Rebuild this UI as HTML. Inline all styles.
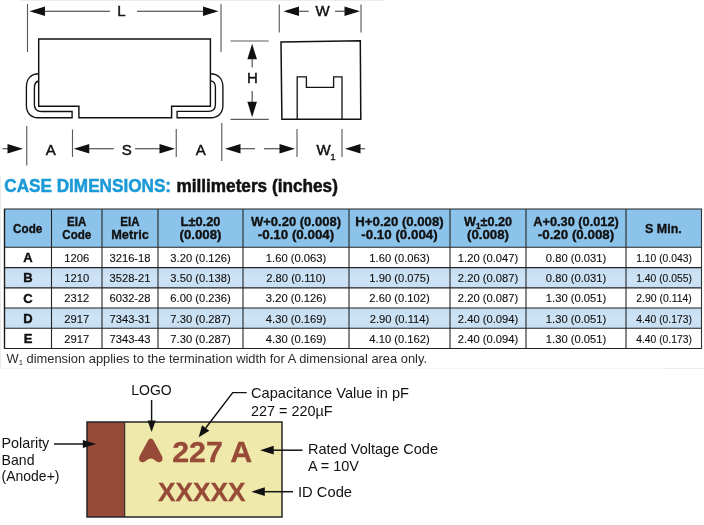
<!DOCTYPE html>
<html lang="en"><head><meta charset="utf-8"><title>Case Dimensions</title>
<style>html,body{margin:0;padding:0;background:#fff}body{width:704px;height:525px;overflow:hidden}svg{display:block}text{font-family:'Liberation Sans', sans-serif}</style>
</head><body>
<svg width="704" height="525" viewBox="0 0 704 525">
<rect x="0" y="0" width="704" height="525" fill="#ffffff"/>
<line x1="27.5" y1="4" x2="27.5" y2="52" stroke="#5c5c5c" stroke-width="1.15" />
<line x1="221" y1="4" x2="221" y2="52" stroke="#5c5c5c" stroke-width="1.15" />
<polygon points="29.5,11.25 45.0,6.45 45.0,16.05" fill="#111"/>
<polygon points="218.5,11.25 203.0,6.45 203.0,16.05" fill="#111"/>
<line x1="44" y1="11.25" x2="110" y2="11.25" stroke="#333" stroke-width="1" />
<line x1="137" y1="11.25" x2="204" y2="11.25" stroke="#333" stroke-width="1" />
<text x="121.5" y="16.3" font-size="15" font-weight="normal" fill="#111" text-anchor="middle"  stroke="#111" stroke-width="0.45">L</text>
<path d="M38.7 106.2 V39 H210.4 V106.2 H171.6 V117.8 H78.9 V106.2 Z" fill="none" stroke="#111" stroke-width="1.45" stroke-linejoin="miter"/>
<path d="M38.7 73.7 C30.8 73.7 26.4 79 26.4 87 V105.5 C26.4 113 31 117.7 38 117.7 H72.1 V111.5 H41.5 C37 111.5 34.4 109 34.4 104.5 V88 C34.4 84 36 81.5 38.7 81" fill="none" stroke="#111" stroke-width="1.35"/>
<path d="M210.4 73.7 C218.3 73.7 222.9 79 222.9 87 V105.5 C222.9 113 218 117.7 211 117.7 H177.1 V111.4 H208.5 C213 111.4 215.4 109 215.4 104.5 V87 C215.4 83.5 213.5 81 210.4 80.8" fill="none" stroke="#111" stroke-width="1.35"/>
<line x1="230.5" y1="41" x2="268.75" y2="41" stroke="#5c5c5c" stroke-width="1.15" />
<line x1="230.5" y1="119.3" x2="268.75" y2="119.3" stroke="#5c5c5c" stroke-width="1.15" />
<polygon points="252.15,43.7 247.35,59.2 256.95,59.2" fill="#111"/>
<polygon points="252.15,117.3 247.35,101.8 256.95,101.8" fill="#111"/>
<line x1="252.15" y1="58" x2="252.15" y2="67.5" stroke="#333" stroke-width="1" />
<line x1="252.15" y1="91" x2="252.15" y2="102" stroke="#333" stroke-width="1" />
<text x="252.45" y="82.8" font-size="15" font-weight="normal" fill="#111" text-anchor="middle"  stroke="#111" stroke-width="0.45">H</text>
<line x1="279.25" y1="4.5" x2="279.25" y2="32.5" stroke="#5c5c5c" stroke-width="1.15" />
<line x1="361" y1="4.5" x2="361" y2="32.5" stroke="#5c5c5c" stroke-width="1.15" />
<polygon points="283.5,11.25 299.0,6.45 299.0,16.05" fill="#111"/>
<polygon points="360,11.25 344.5,6.45 344.5,16.05" fill="#111"/>
<line x1="298" y1="11.25" x2="308.75" y2="11.25" stroke="#333" stroke-width="1" />
<line x1="335" y1="11.25" x2="346" y2="11.25" stroke="#333" stroke-width="1" />
<text x="322.7" y="16.3" font-size="15" font-weight="normal" fill="#111" text-anchor="middle"  stroke="#111" stroke-width="0.45">W</text>
<path d="M281 41.9 L360.3 40.8 L360.8 119.2 L281.9 119.2 Z" fill="none" stroke="#111" stroke-width="1.5"/>
<path d="M297.2 119.2 V76.9 H306.4 V87.3 H333.6 V76.9 H342 V119.2" fill="none" stroke="#111" stroke-width="1.3"/>
<line x1="26.75" y1="126" x2="26.75" y2="165.5" stroke="#5c5c5c" stroke-width="1.15" />
<line x1="72.5" y1="129.5" x2="72.5" y2="157" stroke="#5c5c5c" stroke-width="1.15" />
<line x1="176.25" y1="129" x2="176.25" y2="157" stroke="#5c5c5c" stroke-width="1.15" />
<line x1="221.75" y1="123" x2="221.75" y2="161" stroke="#5c5c5c" stroke-width="1.15" />
<line x1="297" y1="129" x2="297" y2="157" stroke="#5c5c5c" stroke-width="1.15" />
<line x1="342" y1="129" x2="342" y2="157" stroke="#5c5c5c" stroke-width="1.15" />
<line x1="2.5" y1="148.75" x2="8" y2="148.75" stroke="#333" stroke-width="1" />
<polygon points="23,148.75 7.5,143.95 7.5,153.55" fill="#111"/>
<text x="50.7" y="154.5" font-size="15" font-weight="normal" fill="#111" text-anchor="middle"  stroke="#111" stroke-width="0.45">A</text>
<polygon points="73.75,148.75 89.25,143.95 89.25,153.55" fill="#111"/>
<line x1="89" y1="148.75" x2="113.75" y2="148.75" stroke="#333" stroke-width="1" />
<text x="126.7" y="154.5" font-size="15" font-weight="normal" fill="#111" text-anchor="middle"  stroke="#111" stroke-width="0.45">S</text>
<line x1="135" y1="148.75" x2="160" y2="148.75" stroke="#333" stroke-width="1" />
<polygon points="175,148.75 159.5,143.95 159.5,153.55" fill="#111"/>
<text x="200.7" y="154.5" font-size="15" font-weight="normal" fill="#111" text-anchor="middle"  stroke="#111" stroke-width="0.45">A</text>
<polygon points="225,148.75 240.5,143.95 240.5,153.55" fill="#111"/>
<line x1="240" y1="148.75" x2="255" y2="148.75" stroke="#333" stroke-width="1" />
<line x1="264" y1="148.75" x2="280" y2="148.75" stroke="#333" stroke-width="1" />
<polygon points="295,148.75 279.5,143.95 279.5,153.55" fill="#111"/>
<text x="323.5" y="154.5" font-size="15" font-weight="normal" fill="#111" text-anchor="middle"  stroke="#111" stroke-width="0.45">W</text>
<text x="333" y="159.8" font-size="9.8" font-weight="normal" fill="#111" text-anchor="middle"  stroke="#111" stroke-width="0.3">1</text>
<polygon points="345,148.75 360.5,143.95 360.5,153.55" fill="#111"/>
<line x1="360" y1="148.75" x2="365" y2="148.75" stroke="#333" stroke-width="1" />
<line x1="0.5" y1="176" x2="0.5" y2="368" stroke="#ececec" stroke-width="1" />
<line x1="0" y1="368.5" x2="704" y2="368.5" stroke="#f6f6f6" stroke-width="1" />
<line x1="665" y1="368.5" x2="704" y2="368.5" stroke="#ececec" stroke-width="1" />
<line x1="21" y1="0.5" x2="385" y2="0.5" stroke="#ededed" stroke-width="1" />
<text x="4.3" y="192.4" font-size="18" font-weight="bold" fill="#1b9ad7" text-anchor="start" textLength="166.8" lengthAdjust="spacingAndGlyphs"  stroke="#1b9ad7" stroke-width="0.5">CASE DIMENSIONS:</text>
<text x="176.4" y="192.4" font-size="18" font-weight="bold" fill="#111" text-anchor="start" textLength="161.5" lengthAdjust="spacingAndGlyphs"  stroke="#111" stroke-width="0.5">millimeters (inches)</text>
<rect x="4.5" y="209" width="697.0" height="38.19999999999999" fill="#8cc3eb"/>
<defs><linearGradient id="rg" x1="0" y1="0" x2="0" y2="1"><stop offset="0" stop-color="#c4ddf3"/><stop offset="0.5" stop-color="#cee3f5"/><stop offset="1" stop-color="#c6def3"/></linearGradient></defs>
<rect x="4.5" y="267.6" width="697.0" height="20.19999999999999" fill="url(#rg)"/>
<rect x="4.5" y="308" width="697.0" height="20.19999999999999" fill="url(#rg)"/>
<line x1="3.9" y1="209" x2="702.0" y2="209" stroke="#222" stroke-width="1.15" />
<line x1="3.9" y1="247.2" x2="702.0" y2="247.2" stroke="#222" stroke-width="1.15" />
<line x1="3.9" y1="267.6" x2="702.0" y2="267.6" stroke="#222" stroke-width="1.15" />
<line x1="3.9" y1="287.8" x2="702.0" y2="287.8" stroke="#222" stroke-width="1.15" />
<line x1="3.9" y1="308" x2="702.0" y2="308" stroke="#222" stroke-width="1.15" />
<line x1="3.9" y1="328.2" x2="702.0" y2="328.2" stroke="#222" stroke-width="1.15" />
<line x1="3.9" y1="348.5" x2="702.0" y2="348.5" stroke="#222" stroke-width="1.15" />
<line x1="4.5" y1="209" x2="4.5" y2="348.5" stroke="#1a1a1a" stroke-width="1.4" />
<line x1="51.5" y1="209" x2="51.5" y2="348.5" stroke="#262626" stroke-width="1.1" />
<line x1="102" y1="209" x2="102" y2="348.5" stroke="#262626" stroke-width="1.1" />
<line x1="158" y1="209" x2="158" y2="348.5" stroke="#262626" stroke-width="1.1" />
<line x1="243" y1="209" x2="243" y2="348.5" stroke="#262626" stroke-width="1.1" />
<line x1="349" y1="209" x2="349" y2="348.5" stroke="#262626" stroke-width="1.1" />
<line x1="450" y1="209" x2="450" y2="348.5" stroke="#262626" stroke-width="1.1" />
<line x1="526" y1="209" x2="526" y2="348.5" stroke="#262626" stroke-width="1.1" />
<line x1="626" y1="209" x2="626" y2="348.5" stroke="#262626" stroke-width="1.1" />
<line x1="701.5" y1="209" x2="701.5" y2="348.5" stroke="#333" stroke-width="1.1" />
<text x="27.7" y="232.8" font-size="13.2" font-weight="bold" fill="#111" text-anchor="middle" textLength="29.2" lengthAdjust="spacingAndGlyphs"  stroke="#111" stroke-width="0.35">Code</text>
<text x="76.75" y="225.8" font-size="13.2" font-weight="bold" fill="#111" text-anchor="middle" textLength="19.3" lengthAdjust="spacingAndGlyphs"  stroke="#111" stroke-width="0.35">EIA</text>
<text x="76.75" y="238.9" font-size="13.2" font-weight="bold" fill="#111" text-anchor="middle" textLength="29" lengthAdjust="spacingAndGlyphs"  stroke="#111" stroke-width="0.35">Code</text>
<text x="130.0" y="225.8" font-size="13.2" font-weight="bold" fill="#111" text-anchor="middle" textLength="19.3" lengthAdjust="spacingAndGlyphs"  stroke="#111" stroke-width="0.35">EIA</text>
<text x="130.0" y="238.9" font-size="13.2" font-weight="bold" fill="#111" text-anchor="middle" textLength="37.5" lengthAdjust="spacingAndGlyphs"  stroke="#111" stroke-width="0.35">Metric</text>
<text x="200.5" y="225.8" font-size="13.2" font-weight="bold" fill="#111" text-anchor="middle" textLength="39.8" lengthAdjust="spacingAndGlyphs"  stroke="#111" stroke-width="0.35">L±0.20</text>
<text x="200.5" y="238.9" font-size="13.2" font-weight="bold" fill="#111" text-anchor="middle" textLength="42" lengthAdjust="spacingAndGlyphs"  stroke="#111" stroke-width="0.35">(0.008)</text>
<text x="296.0" y="225.8" font-size="13.2" font-weight="bold" fill="#111" text-anchor="middle" textLength="90" lengthAdjust="spacingAndGlyphs"  stroke="#111" stroke-width="0.35">W+0.20 (0.008)</text>
<text x="296.0" y="238.9" font-size="13.2" font-weight="bold" fill="#111" text-anchor="middle" textLength="76.5" lengthAdjust="spacingAndGlyphs"  stroke="#111" stroke-width="0.35">-0.10 (0.004)</text>
<text x="399.5" y="225.8" font-size="13.2" font-weight="bold" fill="#111" text-anchor="middle" textLength="88.3" lengthAdjust="spacingAndGlyphs"  stroke="#111" stroke-width="0.35">H+0.20 (0.008)</text>
<text x="399.5" y="238.9" font-size="13.2" font-weight="bold" fill="#111" text-anchor="middle" textLength="76.5" lengthAdjust="spacingAndGlyphs"  stroke="#111" stroke-width="0.35">-0.10 (0.004)</text>
<text x="488.0" y="225.8" font-size="13.2" font-weight="bold" fill="#111" text-anchor="middle" textLength="48" lengthAdjust="spacingAndGlyphs"  stroke="#111" stroke-width="0.35">W<tspan font-size="8.5" dy="3">1</tspan><tspan dy="-3">±0.20</tspan></text>
<text x="488.0" y="238.9" font-size="13.2" font-weight="bold" fill="#111" text-anchor="middle" textLength="42" lengthAdjust="spacingAndGlyphs"  stroke="#111" stroke-width="0.35">(0.008)</text>
<text x="576.0" y="225.8" font-size="13.2" font-weight="bold" fill="#111" text-anchor="middle" textLength="85.5" lengthAdjust="spacingAndGlyphs"  stroke="#111" stroke-width="0.35">A+0.30 (0.012)</text>
<text x="576.0" y="238.9" font-size="13.2" font-weight="bold" fill="#111" text-anchor="middle" textLength="76.5" lengthAdjust="spacingAndGlyphs"  stroke="#111" stroke-width="0.35">-0.20 (0.008)</text>
<text x="663.45" y="232.8" font-size="13.2" font-weight="bold" fill="#111" text-anchor="middle" textLength="36.8" lengthAdjust="spacingAndGlyphs"  stroke="#111" stroke-width="0.35">S Min.</text>
<text x="28.0" y="261.99999999999994" font-size="13" font-weight="bold" fill="#111" text-anchor="middle"  stroke="#111" stroke-width="0.4">A</text>
<text x="76.75" y="261.79999999999995" font-size="11.2" font-weight="normal" fill="#111" text-anchor="middle"  stroke="#111" stroke-width="0.12">1206</text>
<text x="130.0" y="261.79999999999995" font-size="11.2" font-weight="normal" fill="#111" text-anchor="middle"  stroke="#111" stroke-width="0.12">3216-18</text>
<text x="200.5" y="261.79999999999995" font-size="11.2" font-weight="normal" fill="#111" text-anchor="middle"  stroke="#111" stroke-width="0.12">3.20 (0.126)</text>
<text x="296.0" y="261.79999999999995" font-size="11.2" font-weight="normal" fill="#111" text-anchor="middle"  stroke="#111" stroke-width="0.12">1.60 (0.063)</text>
<text x="399.5" y="261.79999999999995" font-size="11.2" font-weight="normal" fill="#111" text-anchor="middle"  stroke="#111" stroke-width="0.12">1.60 (0.063)</text>
<text x="488.0" y="261.79999999999995" font-size="11.2" font-weight="normal" fill="#111" text-anchor="middle"  stroke="#111" stroke-width="0.12">1.20 (0.047)</text>
<text x="576.0" y="261.79999999999995" font-size="11.2" font-weight="normal" fill="#111" text-anchor="middle"  stroke="#111" stroke-width="0.12">0.80 (0.031)</text>
<text x="664.05" y="261.79999999999995" font-size="11.2" font-weight="normal" fill="#111" text-anchor="middle" textLength="55.6" lengthAdjust="spacingAndGlyphs"  stroke="#111" stroke-width="0.12">1.10 (0.043)</text>
<text x="28.0" y="282.3" font-size="13" font-weight="bold" fill="#111" text-anchor="middle"  stroke="#111" stroke-width="0.4">B</text>
<text x="76.75" y="282.1" font-size="11.2" font-weight="normal" fill="#111" text-anchor="middle"  stroke="#111" stroke-width="0.12">1210</text>
<text x="130.0" y="282.1" font-size="11.2" font-weight="normal" fill="#111" text-anchor="middle"  stroke="#111" stroke-width="0.12">3528-21</text>
<text x="200.5" y="282.1" font-size="11.2" font-weight="normal" fill="#111" text-anchor="middle"  stroke="#111" stroke-width="0.12">3.50 (0.138)</text>
<text x="296.0" y="282.1" font-size="11.2" font-weight="normal" fill="#111" text-anchor="middle"  stroke="#111" stroke-width="0.12">2.80 (0.110)</text>
<text x="399.5" y="282.1" font-size="11.2" font-weight="normal" fill="#111" text-anchor="middle"  stroke="#111" stroke-width="0.12">1.90 (0.075)</text>
<text x="488.0" y="282.1" font-size="11.2" font-weight="normal" fill="#111" text-anchor="middle"  stroke="#111" stroke-width="0.12">2.20 (0.087)</text>
<text x="576.0" y="282.1" font-size="11.2" font-weight="normal" fill="#111" text-anchor="middle"  stroke="#111" stroke-width="0.12">0.80 (0.031)</text>
<text x="664.05" y="282.1" font-size="11.2" font-weight="normal" fill="#111" text-anchor="middle" textLength="55.6" lengthAdjust="spacingAndGlyphs"  stroke="#111" stroke-width="0.12">1.40 (0.055)</text>
<text x="28.0" y="302.49999999999994" font-size="13" font-weight="bold" fill="#111" text-anchor="middle"  stroke="#111" stroke-width="0.4">C</text>
<text x="76.75" y="302.29999999999995" font-size="11.2" font-weight="normal" fill="#111" text-anchor="middle"  stroke="#111" stroke-width="0.12">2312</text>
<text x="130.0" y="302.29999999999995" font-size="11.2" font-weight="normal" fill="#111" text-anchor="middle"  stroke="#111" stroke-width="0.12">6032-28</text>
<text x="200.5" y="302.29999999999995" font-size="11.2" font-weight="normal" fill="#111" text-anchor="middle"  stroke="#111" stroke-width="0.12">6.00 (0.236)</text>
<text x="296.0" y="302.29999999999995" font-size="11.2" font-weight="normal" fill="#111" text-anchor="middle"  stroke="#111" stroke-width="0.12">3.20 (0.126)</text>
<text x="399.5" y="302.29999999999995" font-size="11.2" font-weight="normal" fill="#111" text-anchor="middle"  stroke="#111" stroke-width="0.12">2.60 (0.102)</text>
<text x="488.0" y="302.29999999999995" font-size="11.2" font-weight="normal" fill="#111" text-anchor="middle"  stroke="#111" stroke-width="0.12">2.20 (0.087)</text>
<text x="576.0" y="302.29999999999995" font-size="11.2" font-weight="normal" fill="#111" text-anchor="middle"  stroke="#111" stroke-width="0.12">1.30 (0.051)</text>
<text x="664.05" y="302.29999999999995" font-size="11.2" font-weight="normal" fill="#111" text-anchor="middle" textLength="55.6" lengthAdjust="spacingAndGlyphs"  stroke="#111" stroke-width="0.12">2.90 (0.114)</text>
<text x="28.0" y="322.7" font-size="13" font-weight="bold" fill="#111" text-anchor="middle"  stroke="#111" stroke-width="0.4">D</text>
<text x="76.75" y="322.5" font-size="11.2" font-weight="normal" fill="#111" text-anchor="middle"  stroke="#111" stroke-width="0.12">2917</text>
<text x="130.0" y="322.5" font-size="11.2" font-weight="normal" fill="#111" text-anchor="middle"  stroke="#111" stroke-width="0.12">7343-31</text>
<text x="200.5" y="322.5" font-size="11.2" font-weight="normal" fill="#111" text-anchor="middle"  stroke="#111" stroke-width="0.12">7.30 (0.287)</text>
<text x="296.0" y="322.5" font-size="11.2" font-weight="normal" fill="#111" text-anchor="middle"  stroke="#111" stroke-width="0.12">4.30 (0.169)</text>
<text x="399.5" y="322.5" font-size="11.2" font-weight="normal" fill="#111" text-anchor="middle"  stroke="#111" stroke-width="0.12">2.90 (0.114)</text>
<text x="488.0" y="322.5" font-size="11.2" font-weight="normal" fill="#111" text-anchor="middle"  stroke="#111" stroke-width="0.12">2.40 (0.094)</text>
<text x="576.0" y="322.5" font-size="11.2" font-weight="normal" fill="#111" text-anchor="middle"  stroke="#111" stroke-width="0.12">1.30 (0.051)</text>
<text x="664.05" y="322.5" font-size="11.2" font-weight="normal" fill="#111" text-anchor="middle" textLength="55.6" lengthAdjust="spacingAndGlyphs"  stroke="#111" stroke-width="0.12">4.40 (0.173)</text>
<text x="28.0" y="342.95" font-size="13" font-weight="bold" fill="#111" text-anchor="middle"  stroke="#111" stroke-width="0.4">E</text>
<text x="76.75" y="342.75" font-size="11.2" font-weight="normal" fill="#111" text-anchor="middle"  stroke="#111" stroke-width="0.12">2917</text>
<text x="130.0" y="342.75" font-size="11.2" font-weight="normal" fill="#111" text-anchor="middle"  stroke="#111" stroke-width="0.12">7343-43</text>
<text x="200.5" y="342.75" font-size="11.2" font-weight="normal" fill="#111" text-anchor="middle"  stroke="#111" stroke-width="0.12">7.30 (0.287)</text>
<text x="296.0" y="342.75" font-size="11.2" font-weight="normal" fill="#111" text-anchor="middle"  stroke="#111" stroke-width="0.12">4.30 (0.169)</text>
<text x="399.5" y="342.75" font-size="11.2" font-weight="normal" fill="#111" text-anchor="middle"  stroke="#111" stroke-width="0.12">4.10 (0.162)</text>
<text x="488.0" y="342.75" font-size="11.2" font-weight="normal" fill="#111" text-anchor="middle"  stroke="#111" stroke-width="0.12">2.40 (0.094)</text>
<text x="576.0" y="342.75" font-size="11.2" font-weight="normal" fill="#111" text-anchor="middle"  stroke="#111" stroke-width="0.12">1.30 (0.051)</text>
<text x="664.05" y="342.75" font-size="11.2" font-weight="normal" fill="#111" text-anchor="middle" textLength="55.6" lengthAdjust="spacingAndGlyphs"  stroke="#111" stroke-width="0.12">4.40 (0.173)</text>
<text x="6.5" y="362.9" font-size="12.6" fill="#2a2a2a" textLength="420.5" lengthAdjust="spacingAndGlyphs">W<tspan font-size="7.5" dy="2.5">1</tspan><tspan dy="-2.5"> dimension applies to the termination width for A dimensional area only.</tspan></text>
<rect x="87" y="422" width="195" height="95" fill="#efeaab"/>
<rect x="87" y="422" width="37.7" height="95" fill="#964a37"/>
<line x1="124.7" y1="422" x2="124.7" y2="517" stroke="#2a2a2a" stroke-width="1.1" />
<rect x="87" y="422" width="195" height="95" fill="none" stroke="#262626" stroke-width="1.5"/>
<text x="131.2" y="395.2" font-size="14.6" font-weight="normal" fill="#111" text-anchor="start" textLength="40.5" lengthAdjust="spacingAndGlyphs" >LOGO</text>
<line x1="151.6" y1="400" x2="151.6" y2="422" stroke="#111" stroke-width="1.45" />
<polygon points="151.6,432 147.5,420.5 155.7,420.5" fill="#111"/>
<text x="1.5" y="447.9" font-size="14.4" font-weight="normal" fill="#111" text-anchor="start" textLength="47.8" lengthAdjust="spacingAndGlyphs" >Polarity</text>
<text x="1.5" y="464.6" font-size="14.4" font-weight="normal" fill="#111" text-anchor="start" textLength="33" lengthAdjust="spacingAndGlyphs" >Band</text>
<text x="1.5" y="481.2" font-size="14.4" font-weight="normal" fill="#111" text-anchor="start" textLength="58" lengthAdjust="spacingAndGlyphs" >(Anode+)</text>
<line x1="54" y1="444" x2="84" y2="444" stroke="#111" stroke-width="1.45" />
<polygon points="96.3,444 82.8,439.9 82.8,448.1" fill="#111"/>
<path d="M150.8 438.6 C152.1 438.6 153.1 439.6 154 441.3 L161.7 455.6 C163.6 459.1 162.1 462.3 159.1 462.3 C156.3 462.3 153.9 458.5 150.8 458.5 C147.7 458.5 145.3 462.3 142.5 462.3 C139.5 462.3 138 459.1 139.9 455.6 L147.6 441.3 C148.5 439.6 149.5 438.6 150.8 438.6 Z" fill="#964a37"/>
<text x="172.2" y="461.6" font-size="29" font-weight="bold" fill="#964a37" text-anchor="start" textLength="80" lengthAdjust="spacingAndGlyphs"  stroke="#964a37" stroke-width="0.3">227 A</text>
<text x="158" y="500.8" font-size="25.5" font-weight="bold" fill="#964a37" text-anchor="start" textLength="87.5" lengthAdjust="spacingAndGlyphs"  stroke="#964a37" stroke-width="0.3">XXXXX</text>
<path d="M246.7 392.6 H232.7 L205.7 428" fill="none" stroke="#111" stroke-width="1.45"/>
<polygon points="198.7,437.2 209.3,430.85 202.0,425.27" fill="#111"/>
<text x="251" y="398.4" font-size="14.2" font-weight="normal" fill="#111" text-anchor="start" textLength="158" lengthAdjust="spacingAndGlyphs" >Capacitance Value in pF</text>
<text x="251" y="415.8" font-size="14.2" font-weight="normal" fill="#111" text-anchor="start" textLength="81.5" lengthAdjust="spacingAndGlyphs" >227 = 220µF</text>
<line x1="272" y1="450.2" x2="302.5" y2="450.2" stroke="#111" stroke-width="1.5" />
<polygon points="260.2,450.2 273.7,445.8 273.7,454.59999999999997" fill="#111"/>
<text x="308" y="454" font-size="14.2" font-weight="normal" fill="#111" text-anchor="start" textLength="130" lengthAdjust="spacingAndGlyphs" >Rated Voltage Code</text>
<text x="308" y="471.2" font-size="14.2" font-weight="normal" fill="#111" text-anchor="start" textLength="51" lengthAdjust="spacingAndGlyphs" >A = 10V</text>
<line x1="264" y1="491.7" x2="293" y2="491.7" stroke="#111" stroke-width="1.5" />
<polygon points="251.3,491.7 264.8,487.3 264.8,496.09999999999997" fill="#111"/>
<text x="298" y="497" font-size="14.2" font-weight="normal" fill="#111" text-anchor="start" textLength="54" lengthAdjust="spacingAndGlyphs" >ID Code</text>
</svg></body></html>
